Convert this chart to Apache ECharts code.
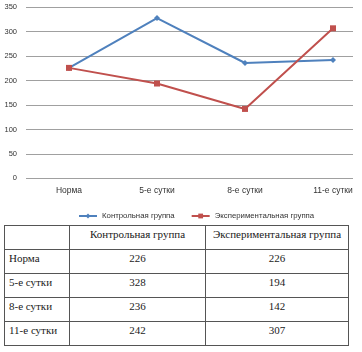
<!DOCTYPE html>
<html>
<head>
<meta charset="utf-8">
<script src="https://cdn.jsdelivr.net/npm/echarts@6/dist/echarts.min.js"></script>
<style>
  html, body { margin: 0; padding: 0; background: #fff; }
  #chart { position: absolute; left: 0; top: 0; width: 362px; height: 222px; }
  #tbl {
    position: absolute; left: 4px; top: 225px;
    border-collapse: collapse; table-layout: fixed;
    font-family: "Liberation Serif", "DejaVu Serif", serif; font-size: 11px; color: #1a1a1a;
  }
  #tbl td {
    border: 1px solid #555; height: 23px; padding: 2px 0 0 0;
    vertical-align: top; text-align: center; line-height: 13px; box-sizing: border-box;
  }
  #tbl td.first { text-align: left; padding-left: 4px; }
</style>
</head>
<body>
<div id="chart"></div>
<table id="tbl"></table>
<script>
const categories = ['Норма', '5-е сутки', '8-е сутки', '11-е сутки'];
const seriesNames = ['Контрольная группа', 'Экспериментальная группа'];
const controlValues = [226, 328, 236, 242];
const experimentValues = [226, 194, 142, 307];

const font = 'Liberation Sans, Arial, sans-serif';

const chart = echarts.init(document.getElementById('chart'));
chart.setOption({
  animation: false,
  backgroundColor: '#fff',
  grid: [
    // value axis + gridlines
    { left: 26, width: 327, top: 7.3, height: 171, outerBoundsMode: 'none' },
    // category axis + lines (bands of 88px, last one runs past the edge)
    { left: 25, width: 352, top: 7.3, height: 171, outerBoundsMode: 'none' }
  ],
  xAxis: [
    { gridIndex: 0, type: 'category', data: categories, show: false },
    {
      gridIndex: 1,
      type: 'category',
      data: categories,
      boundaryGap: true,
      axisLine: { show: false },
      axisTick: { show: false },
      axisLabel: { fontFamily: font, fontSize: 8.5, color: '#333', margin: 8 }
    }
  ],
  yAxis: [
    {
      gridIndex: 0,
      type: 'value',
      min: 0,
      max: 350,
      interval: 50,
      axisLine: { show: false },
      axisTick: { show: false },
      axisLabel: { fontFamily: font, fontSize: 7.5, color: '#333', margin: 9 },
      splitLine: { show: true, lineStyle: { color: '#a0a0a0', width: 1 } }
    },
    { gridIndex: 1, type: 'value', min: 0, max: 350, show: false }
  ],
  legend: {
    top: 207,
    left: 73,
    itemWidth: 18,
    itemHeight: 6,
    itemGap: 16,
    textStyle: { fontFamily: font, fontSize: 7.8, color: '#333' },
    data: seriesNames
  },
  series: [
    {
      name: seriesNames[0],
      type: 'line',
      xAxisIndex: 1,
      yAxisIndex: 1,
      data: controlValues,
      symbol: 'diamond',
      symbolSize: 6,
      lineStyle: { color: '#4F81BD', width: 2 },
      itemStyle: { color: '#4F81BD' }
    },
    {
      name: seriesNames[1],
      type: 'line',
      xAxisIndex: 1,
      yAxisIndex: 1,
      data: experimentValues,
      symbol: 'rect',
      symbolSize: 6,
      lineStyle: { color: '#C0504D', width: 2 },
      itemStyle: { color: '#C0504D' }
    }
  ]
});

// table below the chart, built from the same arrays
const colWidths = [65, 136, 143];
const tbl = document.getElementById('tbl');
let html = '<colgroup>' + colWidths.map(w => '<col style="width:' + w + 'px">').join('') + '</colgroup>';
html += '<tr style="height:24px"><td class="first"></td><td>' + seriesNames[0] + '</td><td>' + seriesNames[1] + '</td></tr>';
categories.forEach((c, i) => {
  html += '<tr style="height:24px"><td class="first">' + c + '</td><td>' + controlValues[i] + '</td><td>' + experimentValues[i] + '</td></tr>';
});
tbl.innerHTML = html;
</script>
</body>
</html>
